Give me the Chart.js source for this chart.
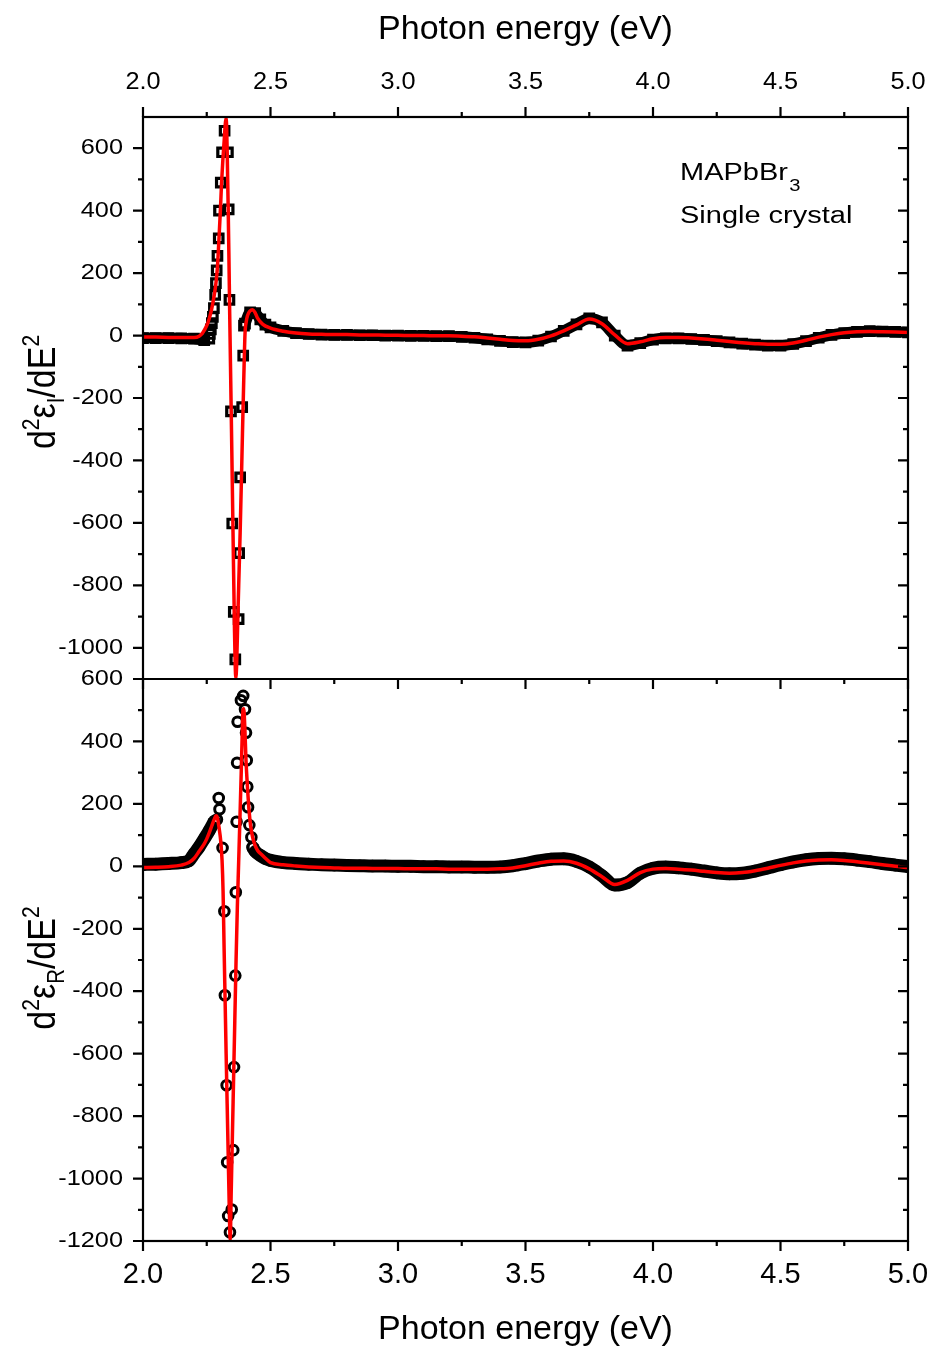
<!DOCTYPE html>
<html>
<head>
<meta charset="utf-8">
<script src="https://cdn.jsdelivr.net/npm/chart.js@4.4.1/dist/chart.umd.min.js"></script>
<style>
  html, body { margin: 0; padding: 0; background: #fff; }
  #wrap { width: 933px; height: 1352px; }
</style>
</head>
<body>
<div id="wrap"><canvas id="chart" width="933" height="1352"></canvas></div>
<script>
// axis ticks
const tickE = [2.0, 2.5, 3.0, 3.5, 4.0, 4.5, 5.0];
const tickTop = [-1000, -800, -600, -400, -200, 0, 200, 400, 600];
const tickBot = [-1200, -1000, -800, -600, -400, -200, 0, 200, 400, 600];

// shared energy grid above 2.5 eV
const eTail = [2.50, 2.55, 2.60, 2.65, 2.70, 2.75, 2.80, 2.85, 2.90, 2.95,
               3.00, 3.05, 3.10, 3.15, 3.20, 3.25, 3.30, 3.35, 3.40, 3.45,
               3.50, 3.55, 3.60, 3.65, 3.70, 3.75, 3.80, 3.85, 3.90, 3.95,
               4.00, 4.05, 4.10, 4.15, 4.20, 4.25, 4.30, 4.35, 4.40, 4.45,
               4.50, 4.55, 4.60, 4.65, 4.70, 4.75, 4.80, 4.85, 4.90, 4.95, 5.00];

// ---- d2eps_I/dE2 (upper panel) ----
// fit
const eFitTopHead = [2.00, 2.05, 2.10, 2.15, 2.20, 2.22, 2.235, 2.25, 2.26, 2.27, 2.28, 2.286, 2.292, 2.299, 2.304,
                     2.308, 2.313, 2.318, 2.322, 2.325, 2.328, 2.331, 2.334, 2.337, 2.340, 2.343, 2.347, 2.353, 2.359, 2.364,
                     2.367, 2.372, 2.377, 2.381, 2.386, 2.390, 2.395, 2.400, 2.405, 2.410, 2.420, 2.430, 2.440, 2.450, 2.470];
const fitTopHead = [-5, -5, -6, -6, -6, -2, 10, 32, 55, 88, 132, 168, 220, 327, 410,
                    487, 560, 620, 670, 695, 670, 550, 410, 250, 70, -90, -300, -630, -950, -1095,
                    -1060, -900, -750, -630, -460, -315, -145, 5, 45, 64, 79, 83, 73, 55, 36];
const fitTopTail = [24, 14, 8, 5, 4, 3, 3, 2, 2, 1,
                    1, 0, 0, -1, -1, -2, -4, -8, -12, -16,
                    -17, -12, -1, 15, 34, 53, 38, 2, -26, -20,
                    -10, -6, -6, -8, -11, -15, -19, -23, -26, -28,
                    -28, -24, -15, -5, 3, 9, 12, 13, 12, 11, 10];
// measured, dense part
const eBandTopL = [2.00, 2.05, 2.10, 2.15, 2.20, 2.24, 2.26];
const bandTopL = [-8, -8, -8, -9, -10, -15, -10];
const eBandTopR = [2.40, 2.42, 2.44, 2.46, 2.48];
const bandTopR = [38, 74, 72, 52, 35];
const bandTopTail = [26, 15, 8, 5, 3, 2, 2, 1, 1, 0,
                     0, -1, -1, -2, -2, -4, -7, -12, -17, -21,
                     -22, -16, -3, 15, 36, 55, 42, 0, -32, -24,
                     -13, -9, -9, -11, -14, -18, -22, -26, -29, -32,
                     -32, -27, -18, -7, 2, 8, 12, 14, 13, 12, 10];
// measured, around the band edge
const eSqTop = [2.262, 2.266, 2.270, 2.274, 2.278, 2.283, 2.286, 2.289, 2.292, 2.297, 2.298, 2.305, 2.310, 2.320,
                2.333, 2.336, 2.339, 2.345, 2.350, 2.356, 2.362, 2.375, 2.377, 2.381, 2.389, 2.393, 2.396];
const sqTop = [5, 20, 40, 60, 88, 130, 168, 209, 255, 311, 400, 490, 587, 656,
               587, 404, 114, -243, -602, -885, -1037, -908, -697, -454, -229, -64, 32];

// ---- d2eps_R/dE2 (lower panel) ----
const eFitBotHead = [2.00, 2.05, 2.10, 2.15, 2.18, 2.20, 2.22, 2.24, 2.25, 2.26, 2.27, 2.28, 2.286, 2.292, 2.298,
                     2.305, 2.310, 2.314, 2.318, 2.322, 2.326, 2.330, 2.334, 2.338, 2.342, 2.346, 2.350, 2.355, 2.360, 2.365,
                     2.370, 2.375, 2.380, 2.385, 2.389, 2.392, 2.395, 2.399, 2.404, 2.410, 2.416, 2.422, 2.430, 2.440, 2.450,
                     2.465, 2.480];
const fitBotHead = [-4, -3, -1, 4, 12, 25, 48, 72, 88, 108, 130, 152, 162, 155, 125,
                    80, 20, -80, -260, -430, -600, -760, -920, -1080, -1195, -1040, -885, -690, -495, -300,
                    -130, 10, 150, 295, 420, 500, 505, 450, 338, 250, 178, 130, 93, 66, 50,
                    38, 26];
const fitBotTail = [12, 5, 1, -2, -4, -5, -6, -6, -7, -7,
                    -7, -8, -8, -8, -9, -9, -9, -9, -8, -5,
                    2, 10, 16, 17, 10, -8, -33, -58, -45, -20,
                    -9, -7, -9, -12, -16, -20, -22, -20, -14, -6,
                    3, 11, 17, 20, 21, 19, 15, 10, 5, 0, -4];
const eBandBotL = [2.00, 2.05, 2.10, 2.15, 2.18, 2.20, 2.22, 2.24, 2.26, 2.28];
const bandBotL = [6, 7, 9, 12, 18, 40, 62, 88, 115, 145];
const eBandBotR = [2.43, 2.44, 2.46, 2.48];
const bandBotR = [61, 48, 35, 25];
const bandBotTail = [19, 12, 9, 7, 5, 4, 3, 2, 1, 1,
                     0, 0, -1, -1, -2, -2, -3, -3, -2, 2,
                     9, 17, 23, 24, 16, -2, -30, -60, -52, -22,
                     -6, -2, -5, -9, -15, -21, -24, -22, -15, -5,
                     5, 14, 21, 25, 26, 24, 20, 15, 9, 4, -1];
const eCirBot = [2.290, 2.297, 2.300, 2.312, 2.319, 2.321, 2.328, 2.330, 2.334, 2.341, 2.348, 2.354, 2.357, 2.362,
                 2.364, 2.367, 2.369, 2.371, 2.384, 2.393, 2.400, 2.404, 2.407, 2.409, 2.412, 2.417, 2.425, 2.430];
const cirBot = [150, 219, 183, 59, -144, -413, -701, -948, -1120, -1172, -1099, -909, -643, -350,
                -83, 143, 332, 463, 532, 546, 503, 428, 340, 255, 189, 132, 93, 61];

const FONT = '"Liberation Sans", Arial, sans-serif';
const RED = '#ff0000';

function pts(es, vs) {
  return es.map((e, i) => ({x: e, y: vs[i]}));
}
// dense band with a break where the sparse points take over
function band(eL, vL, eR, vR, vTail) {
  return pts(eL, vL).concat([{x: (eL[eL.length - 1] + eR[0]) / 2, y: null}], pts(eR.concat(eTail), vR.concat(vTail)));
}

function minors(majors, lo, hi) {
  const out = [];
  for (let i = 0; i < majors.length - 1; i++) out.push((majors[i] + majors[i + 1]) / 2);
  const step = majors[1] - majors[0];
  const a = majors[0] - step / 2, b = majors[majors.length - 1] + step / 2;
  if (a > lo) out.push(a);
  if (b < hi) out.push(b);
  return out;
}

function txt(ctx, s, x, y, size, sx, align) {
  ctx.save();
  ctx.translate(x, y);
  ctx.scale(sx, 1);
  ctx.font = size + 'px ' + FONT;
  ctx.textAlign = align;
  ctx.textBaseline = 'middle';
  ctx.fillText(s, 0, 0);
  ctx.restore();
}

// rotated y title with super/subscripts
function yTitle(ctx, runs, bx, cy, size) {
  ctx.save();
  ctx.translate(bx, cy);
  ctx.rotate(-Math.PI / 2);
  ctx.scale(1, 1.15);
  ctx.textBaseline = 'alphabetic';
  ctx.textAlign = 'left';
  let w = 0;
  runs.forEach(r => { ctx.font = (size * r.s) + 'px ' + FONT; r.w = ctx.measureText(r.t).width; w += r.w; });
  let x = -w / 2;
  runs.forEach(r => {
    ctx.font = (size * r.s) + 'px ' + FONT;
    ctx.fillText(r.t, x, r.dy * size);
    x += r.w;
  });
  ctx.restore();
}

const framePlugin = {
  id: 'frame',
  afterDatasetsDraw(chart) {
    const {ctx, chartArea: a, scales} = chart;
    const xs = scales.x, yT = scales.yTop, yB = scales.yBot;
    const mid = yT.bottom;
    ctx.save();
    ctx.strokeStyle = '#000';
    ctx.lineWidth = 2.2;
    ctx.strokeRect(a.left, a.top, a.right - a.left, a.bottom - a.top);
    ctx.beginPath();
    const seg = (x1, y1, x2, y2) => { ctx.moveTo(x1, y1); ctx.lineTo(x2, y2); };
    seg(a.left, mid, a.right, mid);
    const xTicks = (vals, len) => vals.forEach(v => {
      const p = xs.getPixelForValue(v);
      seg(p, a.top, p, a.top - len);
      seg(p, mid, p, mid + len);
      seg(p, a.bottom, p, a.bottom + len);
    });
    xTicks(tickE, 10);
    xTicks(minors(tickE, 2, 5), 5);
    [[yT, tickTop, -1100, 700], [yB, tickBot, -1200, 600]].forEach(([s, maj, lo, hi]) => {
      const yTicks = (vals, len) => vals.forEach(v => {
        const p = s.getPixelForValue(v);
        seg(a.left, p, a.left - len, p);
        seg(a.right, p, a.right - len, p);
      });
      yTicks(maj, 10);
      yTicks(minors(maj, lo, hi), 5);
    });
    ctx.stroke();
    ctx.restore();
  },
  afterDraw(chart) {
    const {ctx, chartArea: a, scales} = chart;
    const xs = scales.x, yT = scales.yTop, yB = scales.yBot;
    ctx.save();
    ctx.fillStyle = '#000';
    tickE.forEach(v => {
      const p = xs.getPixelForValue(v);
      txt(ctx, v.toFixed(1), p, a.top - 34, 23, 1.1, 'center');
      txt(ctx, v.toFixed(1), p, a.bottom + 34, 29, 1, 'center');
    });
    tickTop.forEach(v => txt(ctx, String(v), a.left - 20, yT.getPixelForValue(v), 22, 1.15, 'right'));
    tickBot.forEach(v => txt(ctx, String(v), a.left - 20, yB.getPixelForValue(v), 22, 1.15, 'right'));

    const cx = (a.left + a.right) / 2;
    txt(ctx, 'Photon energy (eV)', cx, 30, 34, 1, 'center');
    txt(ctx, 'Photon energy (eV)', cx, 1330, 34, 1, 'center');

    const title = sub => [
      {t: 'd', s: 1, dy: 0}, {t: '2', s: 0.62, dy: -0.42}, {t: 'ε', s: 1, dy: 0},
      {t: sub, s: 0.6, dy: 0.22}, {t: '/dE', s: 1, dy: 0}, {t: '2', s: 0.62, dy: -0.42}
    ];
    yTitle(ctx, title('I'), 55, (yT.top + yT.bottom) / 2 - 6, 34);
    yTitle(ctx, title('R'), 55, (yB.top + yB.bottom) / 2 + 8, 34);

    // sample label
    ctx.save();
    ctx.translate(680, 180);
    ctx.scale(1.26, 1);
    ctx.font = '23px ' + FONT;
    ctx.textBaseline = 'alphabetic';
    ctx.textAlign = 'left';
    ctx.fillText('MAPbBr', 0, 0);
    const w = ctx.measureText('MAPbBr').width;
    ctx.font = '16px ' + FONT;
    ctx.fillText('3', w + 1, 11);
    ctx.font = '23px ' + FONT;
    ctx.fillText('Single crystal', 0, 43);
    ctx.restore();
    ctx.restore();
  }
};

const hidden = {ticks: {display: false}, grid: {display: false}, border: {display: false}};

const squareStyle = {
  pointStyle: 'rect', pointRadius: 6, pointBorderWidth: 3.2,
  pointBackgroundColor: 'rgba(0,0,0,0)', pointBorderColor: '#000'
};
const circleStyle = {
  pointStyle: 'circle', pointRadius: 4.8, pointBorderWidth: 3,
  pointBackgroundColor: 'rgba(0,0,0,0)', pointBorderColor: '#000'
};

new Chart(document.getElementById('chart'), {
  type: 'line',
  data: {
    datasets: [
      {
        label: 'fit I', yAxisID: 'yTop', order: 0,
        data: pts(eFitTopHead.concat(eTail), fitTopHead.concat(fitTopTail)),
        borderColor: RED, borderWidth: 3.5, pointRadius: 0, cubicInterpolationMode: 'monotone'
      },
      {
        label: 'fit R', yAxisID: 'yBot', order: 0,
        data: pts(eFitBotHead.concat(eTail), fitBotHead.concat(fitBotTail)),
        borderColor: RED, borderWidth: 3.5, pointRadius: 0, cubicInterpolationMode: 'monotone'
      },
      Object.assign({
        label: 'eps I', yAxisID: 'yTop', order: 1,
        data: band(eBandTopL, bandTopL, eBandTopR, bandTopR, bandTopTail),
        borderColor: '#000', borderWidth: 11, spanGaps: false, cubicInterpolationMode: 'monotone'
      }, squareStyle),
      Object.assign({
        label: 'eps I edge', yAxisID: 'yTop', order: 1,
        data: pts(eSqTop, sqTop), showLine: false
      }, squareStyle),
      Object.assign({
        label: 'eps R', yAxisID: 'yBot', order: 1,
        data: band(eBandBotL, bandBotL, eBandBotR, bandBotR, bandBotTail),
        borderColor: '#000', borderWidth: 13, spanGaps: false, cubicInterpolationMode: 'monotone'
      }, circleStyle),
      Object.assign({
        label: 'eps R edge', yAxisID: 'yBot', order: 1,
        data: pts(eCirBot, cirBot), showLine: false
      }, circleStyle)
    ]
  },
  options: {
    responsive: false,
    animation: false,
    devicePixelRatio: 1,
    layout: {padding: {left: 0, right: 25, top: 0, bottom: 0}},
    plugins: {legend: {display: false}, tooltip: {enabled: false}},
    scales: {
      x: Object.assign({type: 'linear', position: 'bottom', min: 2, max: 5,
        afterFit: s => { s.height = 111; }}, hidden),
      xTop: Object.assign({type: 'linear', position: 'top', min: 2, max: 5,
        afterFit: s => { s.height = 117; }}, hidden),
      yBot: Object.assign({type: 'linear', position: 'left', stack: 'eps', stackWeight: 1, weight: 1,
        min: -1200, max: 600, afterFit: s => { s.width = 143; }}, hidden),
      yTop: Object.assign({type: 'linear', position: 'left', stack: 'eps', stackWeight: 1, weight: 2,
        min: -1100, max: 700, afterFit: s => { s.width = 143; }}, hidden)
    }
  },
  plugins: [framePlugin]
});
</script>
</body>
</html>
